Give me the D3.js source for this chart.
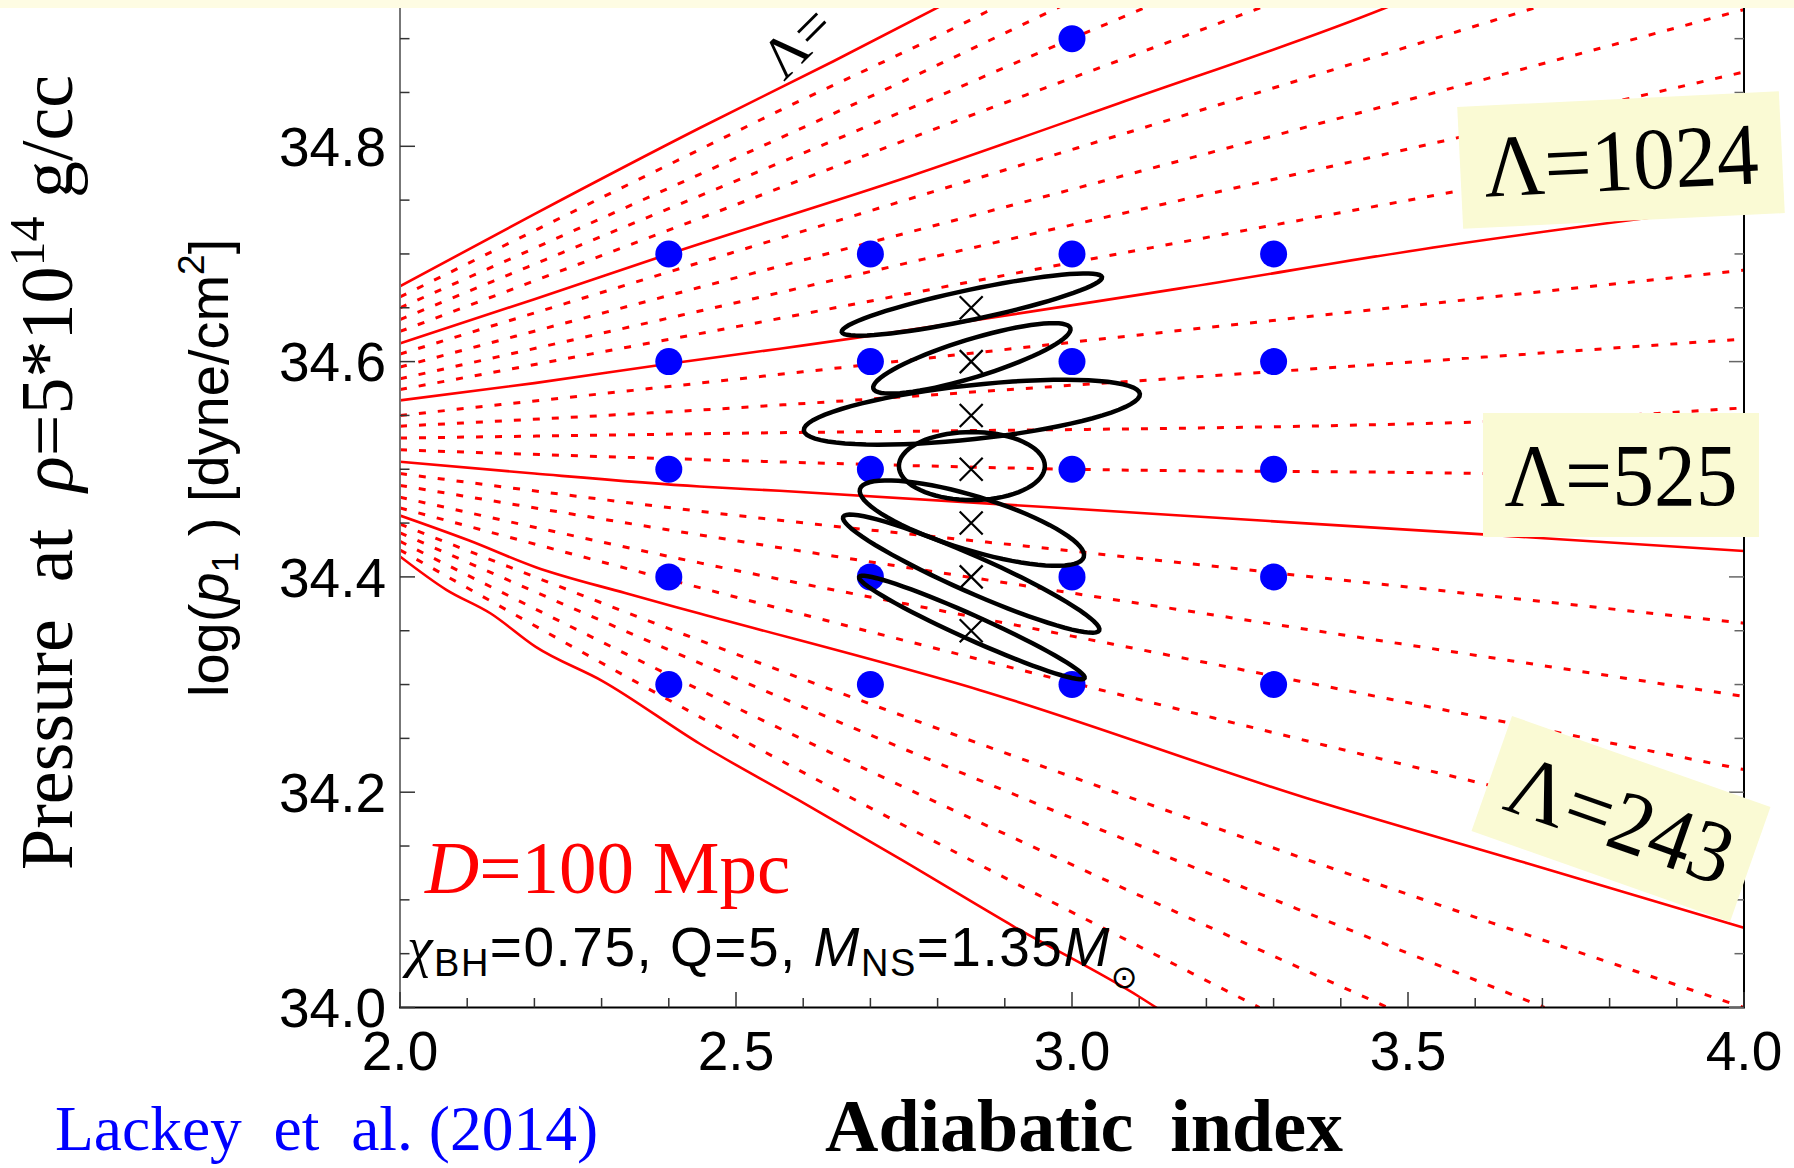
<!DOCTYPE html>
<html>
<head>
<meta charset="utf-8">
<script src="https://cdn.jsdelivr.net/npm/d3@7"></script>
<style>
  body { margin: 0; background: #fff; }
  svg { display: block; }
  text { white-space: pre; }
</style>
</head>
<body>
<svg id="chart" width="1794" height="1168"></svg>
<script>
// grid of models (Gamma, log p1)
const gammaGrid = [2.4, 2.7, 3.0, 3.3];
const logpGrid = [34.3, 34.4, 34.5, 34.6, 34.7];
const extraModels = [[3.0, 34.9]];

// injected signals (crosses) at Gamma = 2.85
const crossGamma = 2.85;
const crossLogp = [34.65, 34.6, 34.55, 34.5, 34.45, 34.4, 34.35];

// 1-sigma ellipses: centre, semi-major tip offset, semi-minor tip offset (data units)
const ellipses = [
  { c: [2.851, 34.653], major: [0.1936, 0.0255], minor: [0.0046, -0.0136] },
  { c: [2.851, 34.603], major: [0.1466, 0.028], minor: [0.0083, -0.0169] },
  { c: [2.851, 34.553], major: [0.25, 0.017], minor: [0.0043, -0.0249] },
  { c: [2.851, 34.503], major: [0.1086, 0.0], minor: [0.0, -0.0316] },
  { c: [2.851, 34.45], major: [0.1665, -0.0316], minor: [-0.0117, -0.024] },
  { c: [2.85, 34.403], major: [0.1905, -0.0527], minor: [-0.0108, -0.0153] },
  { c: [2.851, 34.353], major: [0.1677, -0.047], minor: [-0.0073, -0.0102] }
];

// Lambda contours, solid
const solidContours = [
  [[2.0, 34.670], [2.2, 34.737], [2.446, 34.817], [2.645, 34.879], [2.85, 34.945]],
  [[2.0, 34.617], [2.2, 34.658], [2.4, 34.700], [2.758, 34.772], [3.07, 34.840], [3.464, 34.928], [3.55, 34.95]],
  [[2.0, 34.564], [2.2, 34.580], [2.4, 34.598], [2.565, 34.612], [3.161, 34.668], [3.548, 34.707], [4.0, 34.745]],
  [[2.0, 34.507], [2.2, 34.496], [2.446, 34.484], [2.565, 34.480], [3.161, 34.457], [3.6, 34.440], [4.0, 34.424]],
  [[2.0, 34.457], [2.102, 34.434], [2.202, 34.409], [2.335, 34.385], [2.446, 34.366], [2.862, 34.295], [3.357, 34.193], [3.677, 34.134], [4.0, 34.074]],
  [[2.0, 34.419], [2.069, 34.388], [2.135, 34.366], [2.202, 34.335], [2.302, 34.303], [2.446, 34.245], [2.592, 34.193], [2.744, 34.138], [2.914, 34.075], [3.1, 34.010], [3.15, 33.99]]
];

// Lambda contours, dotted
const dottedContours = [
  [[2.0, 34.660], [2.446, 34.797], [2.541, 34.826], [2.873, 34.925], [2.95, 34.95]],
  [[2.0, 34.650], [2.446, 34.774], [2.63, 34.826], [3.05, 34.95]],
  [[2.0, 34.639], [2.446, 34.754], [2.724, 34.826], [3.0, 34.9], [3.2, 34.953]],
  [[2.0, 34.628], [2.446, 34.733], [2.838, 34.826], [3.067, 34.879], [3.35, 34.945]],
  [[2.0, 34.607], [2.446, 34.692], [3.0, 34.797], [3.8, 34.95]],
  [[2.0, 34.595], [2.446, 34.669], [3.0, 34.76], [4.0, 34.927]],
  [[2.0, 34.584], [2.446, 34.647], [3.0, 34.727], [3.553, 34.805], [4.0, 34.869]],
  [[2.0, 34.574], [2.446, 34.626], [3.0, 34.692], [3.553, 34.756], [4.0, 34.808]],
  [[2.0, 34.550], [2.446, 34.580], [3.0, 34.618], [4.0, 34.685]],
  [[2.0, 34.540], [2.446, 34.555], [3.0, 34.578], [4.0, 34.621]],
  [[2.0, 34.529], [2.446, 34.533], [3.61, 34.544], [4.0, 34.557]],
  [[2.0, 34.518], [2.446, 34.509], [3.0, 34.50], [3.61, 34.496], [4.0, 34.49]],
  [[2.0, 34.496], [2.446, 34.461], [3.0, 34.424], [4.0, 34.357]],
  [[2.0, 34.485], [2.446, 34.439], [3.0, 34.385], [4.0, 34.289]],
  [[2.0, 34.474], [2.446, 34.413], [3.0, 34.345], [4.0, 34.221]],
  [[2.0, 34.464], [2.446, 34.390], [3.558, 34.216], [4.0, 34.15]],
  [[2.0, 34.449], [2.446, 34.341], [3.2, 34.17], [4.0, 34.0]],
  [[2.0, 34.441], [2.446, 34.320], [3.703, 34.0]],
  [[2.0, 34.433], [2.446, 34.295], [3.47, 34.0]],
  [[2.0, 34.425], [2.446, 34.270], [3.279, 34.0]]
];

const xTickValues = [2.0, 2.5, 3.0, 3.5, 4.0];
const yTickValues = [34.0, 34.2, 34.4, 34.6, 34.8];

const svg = d3.select("#chart");
const W = 1794, H = 1168;
const pL = 400, pR = 1744, pB = 1007.5, pT = 8;

const x = d3.scaleLinear().domain([2, 4]).range([pL, pR]);
const y = d3.scaleLinear().domain([34, 34.8]).range([pB, 146.3]);

svg.append("rect").attr("width", W).attr("height", H).attr("fill", "#fff");

svg.append("defs").append("clipPath").attr("id", "plotClip")
  .append("rect").attr("x", pL).attr("y", pT)
  .attr("width", pR - pL).attr("height", pB - pT);

const plot = svg.append("g").attr("clip-path", "url(#plotClip)");

const line = d3.line().x(d => x(d[0])).y(d => y(d[1])).curve(d3.curveMonotoneX);

plot.selectAll(".dotted")
  .data(dottedContours)
  .join("path")
  .attr("class", "dotted")
  .attr("d", line)
  .attr("fill", "none")
  .attr("stroke", "#ff0000")
  .attr("stroke-width", 3)
  .attr("stroke-dasharray", "7,12");

plot.selectAll(".solid")
  .data(solidContours)
  .join("path")
  .attr("class", "solid")
  .attr("d", line)
  .attr("fill", "none")
  .attr("stroke", "#ff0000")
  .attr("stroke-width", 2.6);

// model grid
const models = [];
logpGrid.forEach(p => gammaGrid.forEach(g => models.push([g, p])));
extraModels.forEach(m => models.push(m));

plot.selectAll(".model")
  .data(models)
  .join("circle")
  .attr("class", "model")
  .attr("cx", d => x(d[0]))
  .attr("cy", d => y(d[1]))
  .attr("r", 13.5)
  .attr("fill", "#0000ff");

// ellipses
const ellipsePath = e => {
  const pts = d3.range(0, 73).map(i => {
    const t = (i / 72) * 2 * Math.PI;
    return [
      e.c[0] + Math.cos(t) * e.major[0] + Math.sin(t) * e.minor[0],
      e.c[1] + Math.cos(t) * e.major[1] + Math.sin(t) * e.minor[1]
    ];
  });
  return d3.line().x(d => x(d[0])).y(d => y(d[1])).curve(d3.curveLinearClosed)(pts);
};

plot.selectAll(".ell")
  .data(ellipses)
  .join("path")
  .attr("class", "ell")
  .attr("d", ellipsePath)
  .attr("fill", "none")
  .attr("stroke", "#000")
  .attr("stroke-width", 4.5);

// crosses
const cs = 11.5;
const crosses = plot.selectAll(".cross")
  .data(crossLogp)
  .join("g")
  .attr("class", "cross")
  .attr("transform", d => `translate(${x(crossGamma)},${y(d)})`);
crosses.append("path")
  .attr("d", `M${-cs},${-cs}L${cs},${cs}M${-cs},${cs}L${cs},${-cs}`)
  .attr("stroke", "#000")
  .attr("stroke-width", 2.2);

// top label along the first contour
const serif = "Liberation Serif, Times New Roman, serif";
svg.append("text")
  .attr("transform", "translate(784,82) rotate(-45)")
  .attr("font-family", serif)
  .attr("font-size", 58)
  .attr("fill", "#000")
  .text("Λ=");

// axes frame
const axes = svg.append("g");
axes.append("line").attr("x1", pL).attr("x2", pL).attr("y1", pT).attr("y2", pB)
  .attr("stroke", "#777").attr("stroke-width", 2);
axes.append("line").attr("x1", pR).attr("x2", pR).attr("y1", pT).attr("y2", pB)
  .attr("stroke", "#000").attr("stroke-width", 2);
axes.append("line").attr("x1", pL - 1).attr("x2", pR + 1).attr("y1", pB).attr("y2", pB)
  .attr("stroke", "#000").attr("stroke-width", 2);

const yMinor = y.copy().domain([34, 34.93]).ticks(20);
const xMinor = x.ticks(20);
const isMajor = (vals, d) => vals.some(v => Math.abs(v - d) < 1e-6);

axes.selectAll(".ytl")
  .data(yMinor)
  .join("line")
  .attr("x1", pL)
  .attr("x2", d => pL + (isMajor(yTickValues, d) ? 15 : 9.5))
  .attr("y1", d => y(d)).attr("y2", d => y(d))
  .attr("stroke", "#333").attr("stroke-width", 1.5);

axes.selectAll(".ytr")
  .data(yMinor)
  .join("line")
  .attr("x1", pR)
  .attr("x2", d => pR - (isMajor(yTickValues, d) ? 15 : 9.5))
  .attr("y1", d => y(d)).attr("y2", d => y(d))
  .attr("stroke", "#666").attr("stroke-width", 1.5);

axes.selectAll(".xt")
  .data(xMinor)
  .join("line")
  .attr("x1", d => x(d)).attr("x2", d => x(d))
  .attr("y1", pB)
  .attr("y2", d => pB - (isMajor(xTickValues, d) ? 15.5 : 9.5))
  .attr("stroke", "#333").attr("stroke-width", 1.5);

const fmt = d3.format(".1f");
axes.selectAll(".ylab")
  .data(yTickValues)
  .join("text")
  .attr("x", 386)
  .attr("y", d => y(d))
  .attr("dy", "0.36em")
  .attr("text-anchor", "end")
  .attr("font-family", "Liberation Sans, Arial, sans-serif")
  .attr("font-size", 55)
  .text(fmt);

axes.selectAll(".xlab")
  .data(xTickValues)
  .join("text")
  .attr("x", d => x(d))
  .attr("y", 1070)
  .attr("text-anchor", "middle")
  .attr("font-family", "Liberation Sans, Arial, sans-serif")
  .attr("font-size", 55)
  .text(fmt);

// label boxes
const boxFill = "#fafad4";
const boxes = [
  { label: "Λ=1024", cx: 1621, cy: 160, w: 322, h: 122, rot: -2.8 },
  { label: "Λ=525", cx: 1621, cy: 475, w: 276, h: 124, rot: 0 },
  { label: "Λ=243", cx: 1621, cy: 819, w: 274, h: 122, rot: 19.4 }
];
const bg = svg.selectAll(".lbox")
  .data(boxes)
  .join("g")
  .attr("class", "lbox")
  .attr("transform", d => `translate(${d.cx},${d.cy}) rotate(${d.rot})`);
bg.append("rect")
  .attr("x", d => -d.w / 2).attr("y", d => -d.h / 2)
  .attr("width", d => d.w).attr("height", d => d.h)
  .attr("fill", boxFill);
bg.append("text")
  .attr("transform", "scale(0.95,1)")
  .attr("y", 30)
  .attr("text-anchor", "middle")
  .attr("font-family", serif)
  .attr("font-size", 88)
  .attr("fill", "#000")
  .text(d => d.label);

// yellow band at the top
svg.append("rect").attr("x", 0).attr("y", 0).attr("width", W).attr("height", pT)
  .attr("fill", "#fefce3");

// annotations
const dText = svg.append("text")
  .attr("x", 425).attr("y", 893)
  .attr("font-family", serif)
  .attr("font-size", 75)
  .attr("fill", "#ff0000");
dText.append("tspan").attr("font-style", "italic").text("D");
dText.append("tspan").text("=100 Mpc");

const pText = svg.append("text")
  .attr("x", 407).attr("y", 966)
  .attr("font-family", "Liberation Sans, Arial, sans-serif")
  .attr("font-size", 55)
  .attr("letter-spacing", 1.5)
  .attr("fill", "#000");
pText.append("tspan").attr("font-family", serif).attr("font-style", "italic").attr("font-size", 58).text("χ");
pText.append("tspan").attr("font-size", 38).attr("dy", 10).text("BH");
pText.append("tspan").attr("dy", -10).text("=0.75, Q=5, ");
pText.append("tspan").attr("font-style", "italic").text("M");
pText.append("tspan").attr("font-size", 38).attr("dy", 10).text("NS");
pText.append("tspan").attr("dy", -10).text("=1.35");
pText.append("tspan").attr("font-style", "italic").text("M");
pText.append("tspan").attr("font-family", "DejaVu Sans, sans-serif").attr("font-size", 32).attr("dy", 22).text("⊙");

// axis titles
svg.append("text")
  .attr("x", 1084).attr("y", 1151)
  .attr("text-anchor", "middle")
  .attr("font-family", serif)
  .attr("font-weight", "bold")
  .attr("font-size", 74)
  .text("Adiabatic  index");

svg.append("text")
  .attr("x", 55).attr("y", 1150)
  .attr("font-family", serif)
  .attr("font-size", 63.5)
  .attr("fill", "#0000ff")
  .text("Lackey  et  al. (2014)");

const t1 = svg.append("text")
  .attr("transform", "translate(72,870) rotate(-90)")
  .attr("font-family", serif)
  .attr("font-size", 74)
  .attr("fill", "#000");
t1.append("tspan").text("Pressure  at  ");
t1.append("tspan").attr("font-style", "italic").text("ρ");
t1.append("tspan").text("=5*10");
t1.append("tspan").attr("font-size", 50).attr("dy", -28).text("14");
t1.append("tspan").attr("dy", 28).text(" g/cc");

const t2 = svg.append("text")
  .attr("transform", "translate(228,697) rotate(-90)")
  .attr("font-family", "Liberation Sans, Arial, sans-serif")
  .attr("font-size", 56)
  .attr("fill", "#000");
t2.append("tspan").text("log(");
t2.append("tspan").attr("font-style", "italic").text("p");
t2.append("tspan").attr("font-size", 37).attr("dy", 10).text("1");
t2.append("tspan").attr("dy", -10).text(" ) [dyne/cm");
t2.append("tspan").attr("font-size", 37).attr("dy", -24).text("2");
t2.append("tspan").attr("dy", 24).text("]");
</script>
</body>
</html>
